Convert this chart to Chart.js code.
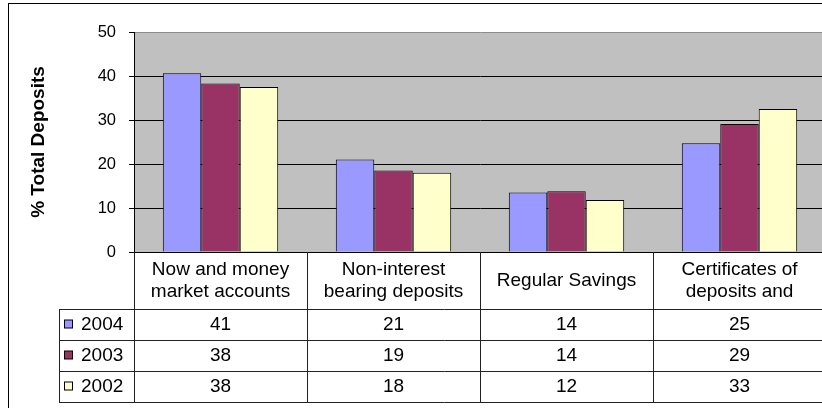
<!DOCTYPE html>
<html>
<head>
<meta charset="utf-8">
<script src="https://cdn.jsdelivr.net/npm/chart.js@4.4.1/dist/chart.umd.min.js"></script>
<style>
  html, body { margin: 0; padding: 0; background: #fff; overflow: hidden; }
  #frame { position: absolute; left: 8px; top: 3px; width: 880px; height: 440px; border: 1px solid #000; }
  #deposits { position: absolute; left: 0; top: 0; }
</style>
</head>
<body>
<div id="frame"></div>
<canvas id="deposits" width="830" height="408"></canvas>
<script>
const categories = [
  ['Now and money', 'market accounts'],
  ['Non-interest', 'bearing deposits'],
  ['Regular Savings'],
  ['Certificates of', 'deposits and']
];
const years = ['2004', '2003', '2002'];
const values2004 = [40.6, 21.0, 13.5, 24.7];
const values2003 = [38.3, 18.5, 13.8, 29.1];
const values2002 = [37.5, 18.0, 11.8, 32.5];

const FONT = '"Liberation Sans", Arial, sans-serif';

const plotBackground = {
  id: 'plot-background',
  beforeDraw(chart) {
    const { ctx, chartArea: { left, top, width, height } } = chart;
    ctx.save();
    ctx.fillStyle = '#C0C0C0';
    ctx.fillRect(left, top, width, height);
    ctx.restore();
  }
};

// excel style data table under the plot, columns follow the category scale
const dataTable = {
  id: 'data-table',
  afterDraw(chart) {
    const { ctx, chartArea } = chart;
    const xScale = chart.scales.x;
    const base = chartArea.bottom;
    const headerH = 57;
    const rowH = 31;
    const headerBottom = base + headerH;
    const tableBottom = headerBottom + rowH * years.length;
    const legendLeft = 59;
    const colW = (xScale.right - xScale.left) / categories.length;

    ctx.save();
    ctx.strokeStyle = '#222';
    ctx.lineWidth = 1;
    ctx.beginPath();
    for (let r = 0; r <= years.length; r++) {
      const y = Math.round(headerBottom + r * rowH) + 0.5;
      ctx.moveTo(legendLeft, y);
      ctx.lineTo(chart.width, y);
    }
    ctx.moveTo(legendLeft + 0.5, headerBottom);
    ctx.lineTo(legendLeft + 0.5, tableBottom);
    categories.forEach((c, i) => {
      const x = Math.round(xScale.getPixelForValue(i) - colW / 2) + 0.5;
      ctx.moveTo(x, base);
      ctx.lineTo(x, tableBottom);
    });
    ctx.stroke();

    ctx.fillStyle = '#000';
    ctx.font = `19px ${FONT}`;
    ctx.textAlign = 'center';
    ctx.textBaseline = 'middle';
    const headerMid = base + headerH / 2;
    categories.forEach((lines, i) => {
      const cx = xScale.getPixelForValue(i);
      lines.forEach((line, k) => {
        const y = headerMid + (k - (lines.length - 1) / 2) * 22;
        ctx.fillText(line, cx, y);
      });
    });

    ctx.strokeStyle = '#000';
    chart.data.datasets.forEach((ds, r) => {
      const rowMid = headerBottom + r * rowH + rowH / 2;
      ctx.fillStyle = ds.backgroundColor;
      ctx.fillRect(64.5, rowMid - 4.5, 8, 8);
      ctx.strokeRect(64.5, rowMid - 4.5, 8, 8);
      ctx.fillStyle = '#000';
      ctx.textAlign = 'left';
      ctx.fillText(ds.label, 81, rowMid);
      ctx.textAlign = 'center';
      ds.data.forEach((v, i) => {
        ctx.fillText(String(Math.round(v)), xScale.getPixelForValue(i), rowMid);
      });
    });
    ctx.restore();
  }
};

new Chart(document.getElementById('deposits'), {
  type: 'bar',
  data: {
    labels: categories,
    datasets: [
      { label: years[0], data: values2004, backgroundColor: '#9999FF' },
      { label: years[1], data: values2003, backgroundColor: '#993366' },
      { label: years[2], data: values2002, backgroundColor: '#FFFFCC' }
    ]
  },
  options: {
    responsive: false,
    animation: false,
    layout: { padding: { left: 0, top: 32, right: 4, bottom: 156 } },
    datasets: {
      bar: {
        borderColor: '#000',
        borderWidth: 1,
        categoryPercentage: 0.667,
        barPercentage: 1.0
      }
    },
    plugins: {
      legend: { display: false },
      tooltip: { enabled: false }
    },
    scales: {
      x: { display: false },
      y: {
        min: 0,
        max: 50,
        ticks: { stepSize: 10, color: '#000', padding: 13, font: { family: FONT, size: 16.5 } },
        grid: {
          color: (c) => (c.tick && c.tick.value === 50 ? '#8c8c8c' : '#000'),
          tickColor: '#000',
          tickLength: 5,
          lineWidth: 1
        },
        border: { display: true, color: '#000' },
        title: {
          display: true,
          text: '% Total Deposits',
          color: '#000',
          font: { family: FONT, size: 19, weight: 'bold' },
          padding: { top: 27, bottom: 0 }
        },
        afterFit(scale) {
          scale.width = 134;
        }
      }
    }
  },
  plugins: [plotBackground, dataTable]
});
</script>
</body>
</html>
